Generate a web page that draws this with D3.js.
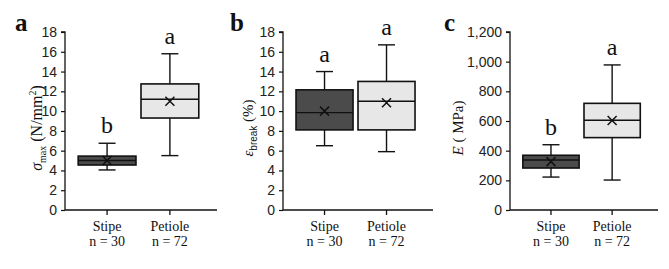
<!DOCTYPE html>
<html>
<head>
<meta charset="utf-8">
<script src="https://cdn.jsdelivr.net/npm/d3@7"></script>
<style>
  body { margin: 0; background: #fff; }
  svg { display: block; }
</style>
</head>
<body>
<svg id="chart" width="669" height="269"></svg>
<script>
// categories and sample sizes shared by all three panels
var categories = ['Stipe', 'Petiole'];
var sampleSizes = [30, 72];

// box stats per category: [whisker low, q1, median, q3, whisker high]
var sigmaStipe = [4.05, 4.55, 5.0, 5.45, 6.75];
var sigmaPetiole = [5.5, 9.3, 11.2, 12.75, 15.8];
var sigmaMeans = [5.0, 11.0];
var sigmaLetters = ['b', 'a'];
var sigmaTicks = [0, 2, 4, 6, 8, 10, 12, 14, 16, 18];

var strainStipe = [6.5, 8.1, 9.85, 12.15, 14.0];
var strainPetiole = [5.9, 8.1, 11.0, 13.0, 16.7];
var strainMeans = [10.0, 10.85];
var strainLetters = ['a', 'a'];
var strainTicks = [0, 2, 4, 6, 8, 10, 12, 14, 16, 18];

var modulusStipe = [222, 283, 337, 369, 440];
var modulusPetiole = [202, 488, 605, 719, 978];
var modulusMeans = [326, 603];
var modulusLetters = ['b', 'a'];
var modulusTicks = [0, 200, 400, 600, 800, 1000, 1200];

var fills = ['#4b4b4b', '#e7e7e7'];
var serif = '"Liberation Serif", "Times New Roman", serif';
var sans = '"Liberation Sans", Arial, sans-serif';

var svg = d3.select('#chart');
svg.append('rect').attr('width', 669).attr('height', 269).attr('fill', '#fff');

function drawPanel(opts) {
    var g = svg.append('g');
    var yTop = 32, yBottom = 210;
    var y = d3.scaleLinear().domain([0, opts.ticks[opts.ticks.length - 1]]).range([yBottom, yTop]);
    var x = d3.scaleBand().domain(categories).range([opts.left, opts.right])
        .paddingInner(0.08).paddingOuter(0.25).align(0.42);

    // y axis
    var yAxis = d3.axisLeft(y).tickValues(opts.ticks).tickSize(4).tickPadding(4)
        .tickFormat(opts.format || d3.format('d'));
    var ya = g.append('g').attr('transform', 'translate(' + opts.left + ',0)').call(yAxis);
    ya.select('.domain').attr('d', 'M-4,' + yTop + 'H0V' + yBottom);
    ya.selectAll('line').attr('stroke', '#111').attr('stroke-width', 1.2);
    ya.select('.domain').attr('stroke', '#111').attr('stroke-width', 1.3);
    ya.selectAll('text').attr('font-family', sans).attr('font-size', 14).attr('fill', '#222');

    // x axis
    var xAxis = d3.axisBottom(x).tickSize(5).tickFormat('');
    var xa = g.append('g').attr('transform', 'translate(0,' + yBottom + ')').call(xAxis);
    xa.select('.domain').attr('d', 'M' + opts.left + ',0H' + opts.right);
    xa.select('.domain').attr('stroke', '#111').attr('stroke-width', 1.3);
    xa.selectAll('line').attr('stroke', '#111').attr('stroke-width', 1.3);

    categories.forEach(function (c, i) {
        var cx = x(c) + x.bandwidth() / 2;
        g.append('text').attr('x', cx).attr('y', 231).attr('text-anchor', 'middle')
            .attr('font-family', serif).attr('font-size', 14).attr('fill', '#111').text(c);
        g.append('text').attr('x', cx).attr('y', 246).attr('text-anchor', 'middle')
            .attr('font-family', serif).attr('font-size', 14).attr('fill', '#111').text('n = ' + sampleSizes[i]);
    });

    // boxes
    var stats = [opts.stipe, opts.petiole];
    stats.forEach(function (s, i) {
        var c = categories[i];
        var bx = x(c), bw = x.bandwidth(), cx = bx + bw / 2;
        var cap = 8.5;
        var stroke = '#111';
        // whiskers
        g.append('line').attr('x1', cx).attr('x2', cx).attr('y1', y(s[3])).attr('y2', y(s[4]))
            .attr('stroke', stroke).attr('stroke-width', 1.4);
        g.append('line').attr('x1', cx).attr('x2', cx).attr('y1', y(s[1])).attr('y2', y(s[0]))
            .attr('stroke', stroke).attr('stroke-width', 1.4);
        g.append('line').attr('x1', cx - cap).attr('x2', cx + cap).attr('y1', y(s[4])).attr('y2', y(s[4]))
            .attr('stroke', stroke).attr('stroke-width', 1.4);
        g.append('line').attr('x1', cx - cap).attr('x2', cx + cap).attr('y1', y(s[0])).attr('y2', y(s[0]))
            .attr('stroke', stroke).attr('stroke-width', 1.4);
        g.append('rect').attr('x', bx).attr('width', bw).attr('y', y(s[3])).attr('height', y(s[1]) - y(s[3]))
            .attr('fill', fills[i]).attr('stroke', stroke).attr('stroke-width', 1.6);
        g.append('line').attr('x1', bx).attr('x2', bx + bw).attr('y1', y(s[2])).attr('y2', y(s[2]))
            .attr('stroke', stroke).attr('stroke-width', 1.4);
        // mean marker
        var my = y(opts.means[i]), m = 4.5;
        g.append('path').attr('d', 'M' + (cx - m) + ',' + (my - m) + 'L' + (cx + m) + ',' + (my + m) +
            'M' + (cx - m) + ',' + (my + m) + 'L' + (cx + m) + ',' + (my - m))
            .attr('stroke', stroke).attr('stroke-width', 1.5).attr('fill', 'none');
        // significance letter
        g.append('text').attr('x', cx).attr('y', y(s[4]) - 10).attr('text-anchor', 'middle')
            .attr('font-family', serif).attr('font-size', 24).attr('fill', '#111').text(opts.letters[i]);
    });

    // panel letter
    g.append('text').attr('x', opts.tagX).attr('y', 31).attr('font-family', serif)
        .attr('font-weight', 'bold').attr('font-size', 25).attr('fill', '#111').text(opts.tag);

    // axis title
    var t = g.append('text').attr('transform', 'translate(' + opts.titleX + ',128) rotate(-90)')
        .attr('text-anchor', 'middle').attr('font-family', serif).attr('font-size', opts.titleSize)
        .attr('fill', '#111');
    opts.title(t);
}

drawPanel({
    left: 65, right: 217, tagX: 15, tag: 'a', titleX: 42, titleSize: 16,
    stipe: sigmaStipe, petiole: sigmaPetiole, means: sigmaMeans, letters: sigmaLetters, ticks: sigmaTicks,
    title: function (t) {
        t.append('tspan').attr('font-style', 'italic').text('\u03c3');
        t.append('tspan').attr('font-size', 10).attr('dy', 4).text('max');
        t.append('tspan').attr('dy', -4).text(' (N/mm');
        t.append('tspan').attr('font-size', 10).attr('dy', -6).text('2');
        t.append('tspan').attr('dy', 6).text(')');
    }
});

drawPanel({
    left: 283, right: 433, tagX: 230, tag: 'b', titleX: 253, titleSize: 15,
    stipe: strainStipe, petiole: strainPetiole, means: strainMeans, letters: strainLetters, ticks: strainTicks,
    title: function (t) {
        t.append('tspan').attr('font-style', 'italic').text('\u03b5');
        t.append('tspan').attr('font-size', 10).attr('font-family', sans).attr('dy', 4).text('break');
        t.append('tspan').attr('dy', -4).text(' (%)');
    }
});

drawPanel({
    left: 510, right: 658, tagX: 444, tag: 'c', titleX: 463, titleSize: 15,
    stipe: modulusStipe, petiole: modulusPetiole, means: modulusMeans, letters: modulusLetters, ticks: modulusTicks,
    format: d3.format(','),
    title: function (t) {
        t.append('tspan').attr('font-style', 'italic').text('E');
        t.append('tspan').text(' ( MPa)');
    }
});
</script>
</body>
</html>
